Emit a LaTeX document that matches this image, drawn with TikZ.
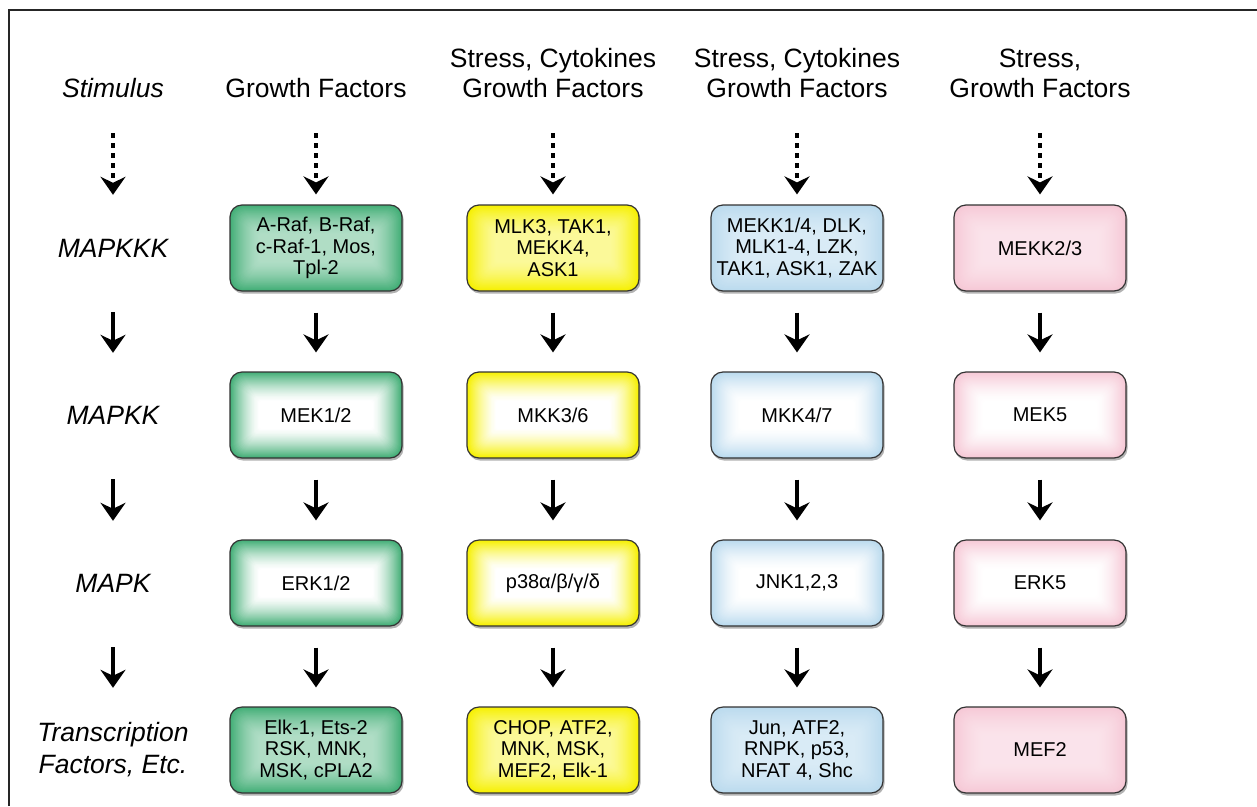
\documentclass[tikz,border=0pt]{standalone}
\usepackage{fontspec}
\setmainfont{Liberation Sans}
\usetikzlibrary{arrows.meta}
\definecolor{gedge}{RGB}{66,174,118}
\definecolor{yedge}{RGB}{246,240,0}
\definecolor{bedge}{RGB}{186,218,238}
\definecolor{pedge}{RGB}{246,200,214}
\colorlet{gctr}{gedge!42!white}
\colorlet{yctr}{yedge!40!white}
\colorlet{bctr}{bedge!55!white}
\colorlet{pctr}{pedge!50!white}
\newcommand{\glowfill}[4]{%
  \fill[black!30, rounded corners=12pt] ({#1-85},{#2-41}) rectangle ({#1+87.5},{#2+45.5});
  \foreach \i in {0,...,30}{%
    \pgfmathtruncatemacro{\pct}{100*(1-\i/30)^1.5}%
    \pgfmathsetmacro{\rc}{max(12-\i*0.4,2)}%
    \pgfmathsetmacro{\ins}{\i*1.0}%
    \fill[#3!\pct!#4, rounded corners=\rc pt] ({#1-86+\ins},{#2-43+\ins}) rectangle ({#1+86-\ins},{#2+43-\ins});
  }%
}
\tikzset{
  hdr/.style={anchor=south, inner sep=0pt, align=center, font=\fontsize{26.5}{30}\selectfont},
  lbl/.style={inner sep=0pt, align=center, minimum width=172pt, minimum height=86pt, font=\fontsize{26.5}{32}\selectfont\itshape},
  box/.style={draw=black!80, line width=1.2pt, rounded corners=12pt, inner sep=0pt, align=center, minimum width=172pt, minimum height=86pt, font=\fontsize{20}{21.5}\selectfont},
  arr/.style={line width=3.6pt, -{Stealth[length=18pt,width=25pt,inset=6pt]}, shorten <=21pt, shorten >=19pt},
  dotarr/.style={line width=4.5pt, dash pattern=on 5pt off 5pt, -{Stealth[length=18pt,width=25pt,inset=6pt]}, shorten <=35pt, shorten >=10pt},
}
\begin{document}
\begin{tikzpicture}[x=1pt,y=-1pt]
\useasboundingbox (0,0) rectangle (1257,806);
\draw[line width=2.5pt, black!85] (9,806) -- (9,10) -- (1257,10);
% headers
\node[hdr] (h0) at (113,98) {\itshape Stimulus};
\node[hdr] (h1) at (316,98) {Growth Factors};
\node[hdr] (h2) at (553,98) {Stress, Cytokines\\Growth Factors};
\node[hdr] (h3) at (797,98) {Stress, Cytokines\\Growth Factors};
\node[hdr] (h4) at (1040,98) {Stress,\\Growth Factors};
% labels
\node[lbl] (l1) at (113,248) {MAPKKK};
\node[lbl] (l2) at (113,415) {MAPKK};
\node[lbl] (l3) at (113,583) {MAPK};
\node[lbl] (l4) at (113,750) {Transcription\\Factors, Etc.};
% green column
\glowfill{316}{248}{gedge}{gctr}
\node[box] (g1) at (316,248) {A-Raf, B-Raf,\\c-Raf-1, Mos,\\Tpl-2};
\glowfill{316}{415}{gedge}{white}
\node[box] (g2) at (316,415) {MEK1/2};
\glowfill{316}{583}{gedge}{white}
\node[box] (g3) at (316,583) {ERK1/2};
\glowfill{316}{750}{gedge}{gctr}
\node[box] (g4) at (316,750) {Elk-1, Ets-2\\RSK, MNK,\\MSK, cPLA2};
% yellow column
\glowfill{553}{248}{yedge}{yctr}
\node[box] (y1) at (553,248) {MLK3, TAK1,\\MEKK4,\\ASK1};
\glowfill{553}{415}{yedge}{white}
\node[box] (y2) at (553,415) {MKK3/6};
\glowfill{553}{583}{yedge}{white}
\node[box] (y3) at (553,583) {p38α/β/γ/δ};
\glowfill{553}{750}{yedge}{yctr}
\node[box] (y4) at (553,750) {CHOP, ATF2,\\MNK, MSK,\\MEF2, Elk-1};
% blue column
\glowfill{797}{248}{bedge}{bctr}
\node[box] (b1) at (797,248) {MEKK1/4, DLK,\\MLK1-4, LZK,\\TAK1, ASK1, ZAK};
\glowfill{797}{415}{bedge}{white}
\node[box] (b2) at (797,415) {MKK4/7};
\glowfill{797}{583}{bedge}{white}
\node[box] (b3) at (797,583) {JNK1,2,3};
\glowfill{797}{750}{bedge}{bctr}
\node[box] (b4) at (797,750) {Jun, ATF2,\\RNPK, p53,\\NFAT 4, Shc};
% pink column
\glowfill{1040}{248}{pedge}{pctr}
\node[box] (p1) at (1040,248) {MEKK2/3};
\glowfill{1040}{415}{pedge}{white}
\node[box] (p2) at (1040,415) {MEK5};
\glowfill{1040}{583}{pedge}{white}
\node[box] (p3) at (1040,583) {ERK5};
\glowfill{1040}{750}{pedge}{pctr}
\node[box] (p4) at (1040,750) {MEF2};
% dotted arrows
\foreach \h/\t in {h0/l1,h1/g1,h2/y1,h3/b1,h4/p1}
  \draw[dotarr] (\h.south) -- (\t.north);
% solid arrows
\foreach \a/\b in {l1/l2,l2/l3,l3/l4,g1/g2,g2/g3,g3/g4,y1/y2,y2/y3,y3/y4,b1/b2,b2/b3,b3/b4,p1/p2,p2/p3,p3/p4}
  \draw[arr] (\a.south) -- (\b.north);
\end{tikzpicture}
\end{document}
